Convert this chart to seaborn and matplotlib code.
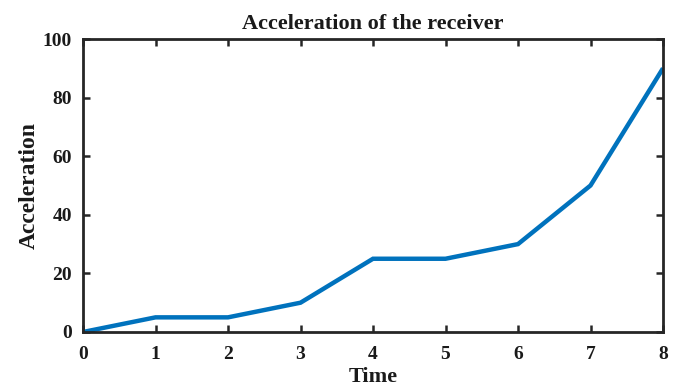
import matplotlib
matplotlib.use("Agg")
import matplotlib.pyplot as plt
import seaborn as sns
import pandas as pd

time = [0, 1, 2, 3, 4, 5, 6, 7, 8]
acceleration = [0, 5, 5, 10, 25, 25, 30, 50, 90]
x_ticks = [0, 1, 2, 3, 4, 5, 6, 7, 8]
y_ticks = [0, 20, 40, 60, 80, 100]

sns.set_theme(style="white")
plt.rcParams["font.family"] = ["Liberation Serif", "DejaVu Serif"]
plt.rcParams["font.weight"] = "bold"

df = pd.DataFrame({"Time": time, "Acceleration": acceleration})

fig = plt.figure(figsize=(6.81, 3.89), dpi=100)
ax = fig.add_axes([83 / 681, 1 - 332 / 389, (663 - 83) / 681, (332 - 39) / 389])

sns.lineplot(data=df, x="Time", y="Acceleration", ax=ax, color="#0072BD",
             linewidth=3.2, solid_capstyle="butt", solid_joinstyle="miter")

ax.set_xlim(0, 8)
ax.set_ylim(0, 100)
ax.set_xticks(x_ticks)
ax.set_yticks(y_ticks)
ax.tick_params(direction="in", length=5, width=1.8, top=True, right=True,
               bottom=True, left=True, labelsize=14, colors="#262626",
               labelcolor="#1a1a1a")
ax.tick_params(axis="x", pad=10)
ax.tick_params(axis="y", pad=8)
for lab in ax.get_xticklabels() + ax.get_yticklabels():
    lab.set_fontweight("bold")
for sp in ax.spines.values():
    sp.set_linewidth(2.0)
    sp.set_color("#262626")

ax.set_title("Acceleration of the receiver", fontsize=16, fontweight="bold",
             pad=7, color="#1a1a1a")
ax.set_xlabel("Time", fontsize=16, fontweight="bold", color="#1a1a1a")
ax.set_ylabel("Acceleration", fontsize=17, fontweight="bold", color="#1a1a1a")
ax.xaxis.set_label_coords(0.5, -0.12)
ax.yaxis.set_label_coords(-0.074, 0.5)

fig.savefig("out.png", dpi=100)
